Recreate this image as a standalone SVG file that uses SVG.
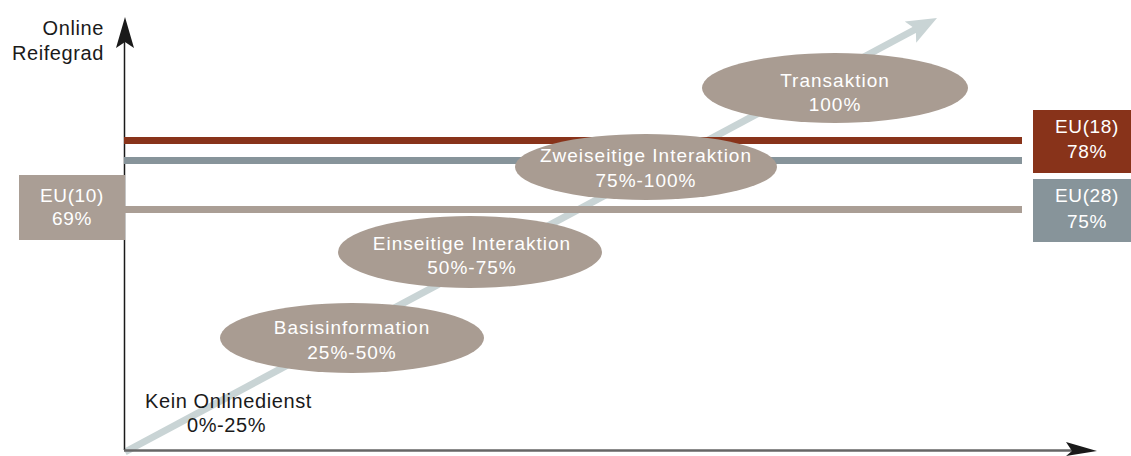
<svg xmlns="http://www.w3.org/2000/svg" width="1131" height="456" viewBox="0 0 1131 456">
  <style>
    .axis-label { font-family: "Liberation Sans", Arial, sans-serif; font-size: 20px; fill: #1a1a1a; letter-spacing: 0.6px; }
    .stage { fill: #a99c92; }
    .stage-text { font-family: "Liberation Sans", Arial, sans-serif; font-size: 19px; fill: #ffffff; text-anchor: middle; letter-spacing: 1px; }
    .badge-text { font-family: "Liberation Sans", Arial, sans-serif; font-size: 19px; fill: #ffffff; text-anchor: middle; letter-spacing: 0.6px; }
    .level { stroke-width: 7; fill: none; }
  </style>

  <rect width="1131" height="456" fill="#ffffff"/>

  <!-- axes and growth arrow -->
  <g id="connectors">
    <!-- diagonal maturity path -->
    <line x1="125" y1="452" x2="916" y2="29" stroke="#c9d4d5" stroke-width="7"/>
    <polygon points="937,18 916.2,42.7 915.8,29.3 904.8,21.5" fill="#c9d4d5"/>

    <!-- y axis -->
    <line x1="124.5" y1="450" x2="124.5" y2="40" stroke="#1a1a1a" stroke-width="1.5"/>
    <polygon points="125,17 134,48 125,42 116,48" fill="#1a1a1a"/>

    <!-- x axis -->
    <line x1="124" y1="450.5" x2="1075" y2="450.5" stroke="#666666" stroke-width="2.5"/>
    <polygon points="1097,451 1066,442 1072,451 1066,456" fill="#1a1a1a"/>

    <!-- average levels -->
    <line class="level" x1="124" y1="140.5" x2="1022" y2="140.5" stroke="#88331a"/>
    <line class="level" x1="124" y1="160.5" x2="1022" y2="160.5" stroke="#87949a"/>
    <line class="level" x1="124" y1="209.5" x2="1022" y2="209.5" stroke="#aa9e95"/>
  </g>

  <g id="axis-y-label">
    <text class="axis-label" x="104" y="35" text-anchor="end">Online</text>
    <text class="axis-label" x="104" y="60" text-anchor="end">Reifegrad</text>
  </g>

  <g id="stage-none">
    <text class="axis-label" x="145" y="408">Kein Onlinedienst</text>
    <text class="axis-label" x="187" y="432">0%-25%</text>
  </g>

  <g id="stage-basis">
    <ellipse class="stage" cx="352" cy="338" rx="132" ry="35"/>
    <text class="stage-text" x="352" y="334">Basisinformation</text>
    <text class="stage-text" x="352" y="359">25%-50%</text>
  </g>

  <g id="stage-einseitig">
    <ellipse class="stage" cx="470" cy="252" rx="132" ry="36"/>
    <text class="stage-text" x="472" y="250">Einseitige Interaktion</text>
    <text class="stage-text" x="472" y="274">50%-75%</text>
  </g>

  <g id="stage-zweiseitig">
    <ellipse class="stage" cx="646" cy="167" rx="131" ry="33"/>
    <text class="stage-text" x="646" y="162">Zweiseitige Interaktion</text>
    <text class="stage-text" x="646" y="187">75%-100%</text>
  </g>

  <g id="stage-transaktion">
    <ellipse class="stage" cx="835" cy="88" rx="133" ry="35"/>
    <text class="stage-text" x="835" y="87">Transaktion</text>
    <text class="stage-text" x="835" y="111">100%</text>
  </g>

  <g id="badge-eu10">
    <rect x="19" y="175" width="106" height="65" fill="#aa9e95"/>
    <text class="badge-text" x="72" y="202">EU(10)</text>
    <text class="badge-text" x="72" y="225">69%</text>
  </g>

  <g id="badge-eu18">
    <rect x="1033" y="110" width="108" height="63" fill="#88331a"/>
    <text class="badge-text" x="1087" y="133">EU(18)</text>
    <text class="badge-text" x="1087" y="158">78%</text>
  </g>

  <g id="badge-eu28">
    <rect x="1033" y="179" width="108" height="63" fill="#87949a"/>
    <text class="badge-text" x="1087" y="202">EU(28)</text>
    <text class="badge-text" x="1087" y="228">75%</text>
  </g>
</svg>
